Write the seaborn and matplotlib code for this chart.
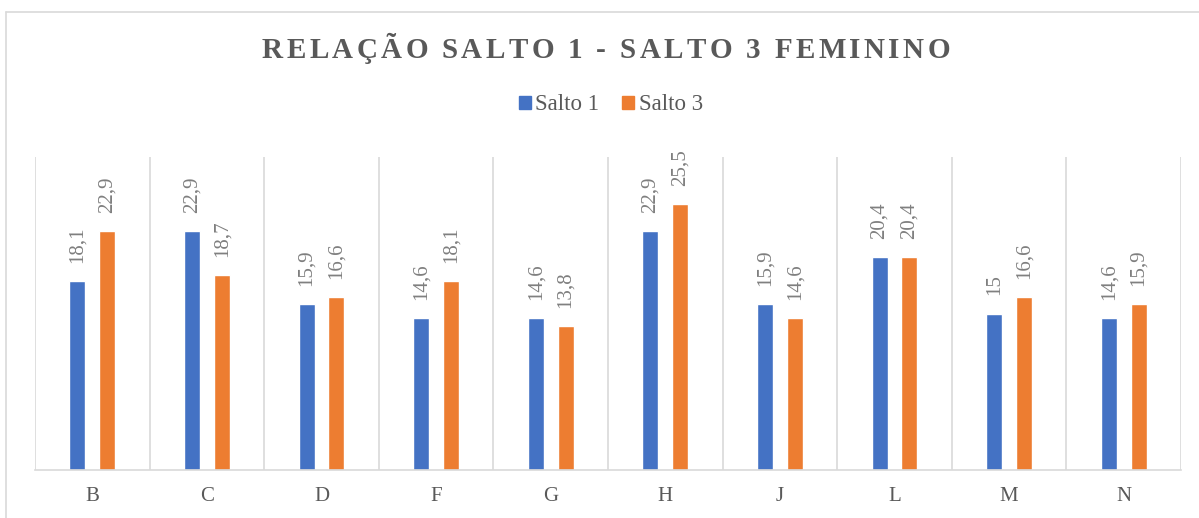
import matplotlib
matplotlib.use("Agg")
import matplotlib.pyplot as plt
import matplotlib.lines as mlines
import matplotlib.patches as mpatches
import numpy as np
import pandas as pd
import seaborn as sns

categorias = ["B", "C", "D", "F", "G", "H", "J", "L", "M", "N"]
salto1 = [18.1, 22.9, 15.9, 14.6, 14.6, 22.9, 15.9, 20.4, 15.0, 14.6]
salto3 = [22.9, 18.7, 16.6, 18.1, 13.8, 25.5, 14.6, 20.4, 16.6, 15.9]
series = ["Salto 1", "Salto 3"]
cores = ["#4472C4", "#ED7D31"]
titulo = "RELAÇÃO SALTO 1 - SALTO 3 FEMININO"

df = pd.DataFrame({
    "cat": categorias * 2,
    "valor": salto1 + salto3,
    "serie": [series[0]] * len(categorias) + [series[1]] * len(categorias),
})

sns.set_style("white")
plt.rcParams["font.family"] = ["Liberation Serif", "DejaVu Serif"]

W, H = 1199, 518
fig = plt.figure(figsize=(W / 100, H / 100), dpi=100)
ax = fig.add_axes([35 / W, (H - 470) / H, (1181 - 35) / W, (470 - 157) / H])

sns.barplot(data=df, x="cat", y="valor", hue="serie", palette=cores,
            width=0.52, gap=0.46, order=categorias, hue_order=series,
            saturation=1, legend=False, ax=ax)


def fmt(v):
    s = f"{v:.1f}".replace(".", ",")
    return s[:-2] if s.endswith(",0") else s


for cont in ax.containers:
    ax.bar_label(cont, labels=[fmt(b.get_height()) for b in cont],
                 rotation=90, padding=13, fontsize=15, color="#7F7F7F")

ax.set_ylim(0, 30)
ax.set_xlim(-0.5, len(categorias) - 0.5)
ax.set_yticks([])
ax.set_xlabel("")
ax.set_ylabel("")
ax.set_xticks(np.arange(-0.5, len(categorias)), minor=True)
ax.grid(which="minor", axis="x", color="#D9D9D9", linewidth=1.2)
ax.tick_params(axis="x", which="both", length=0)
ax.tick_params(axis="x", which="major", labelsize=15, labelcolor="#595959", pad=12)
for s in ["left", "right", "top"]:
    ax.spines[s].set_visible(False)
ax.spines["bottom"].set_color("#D9D9D9")
ax.spines["bottom"].set_linewidth(1.2)

# legend
handles = [mpatches.Patch(color=c, label=l) for c, l in zip(cores, series)]
fig.legend(handles=handles, loc="center", bbox_to_anchor=(611 / W, 1 - 105 / H),
           ncol=2, frameon=False, fontsize=16.5, handlelength=0.52, handleheight=0.52,
           handletextpad=0.2, columnspacing=1.0, labelcolor="#595959")

# title with letter spacing
fig.canvas.draw()
r = fig.canvas.get_renderer()
alvo = 688.0
tmp = [fig.text(0, 0, ch, fontsize=21, fontweight="bold") for ch in titulo]
larg = [t.get_window_extent(r).width if ch != " " else 0 for t, ch in zip(tmp, titulo)]
for t in tmp:
    t.remove()
esp_largura = 7.0
larg = [w if ch != " " else esp_largura for w, ch in zip(larg, titulo)]
passo = (alvo - sum(larg)) / (len(titulo) - 1)
x = 262.0
for ch, w in zip(titulo, larg):
    fig.text(x / W, 1 - 51 / H, ch, fontsize=21, fontweight="bold", color="#595959",
             ha="left", va="center")
    x += w + passo

# chart area border
fig.add_artist(mlines.Line2D([6 / W, 1], [1 - 11.5 / H] * 2, color="#D9D9D9", lw=1.2))
fig.add_artist(mlines.Line2D([6 / W] * 2, [0, 1 - 11.5 / H], color="#D9D9D9", lw=1.2))

fig.savefig("out.png", dpi=100)
